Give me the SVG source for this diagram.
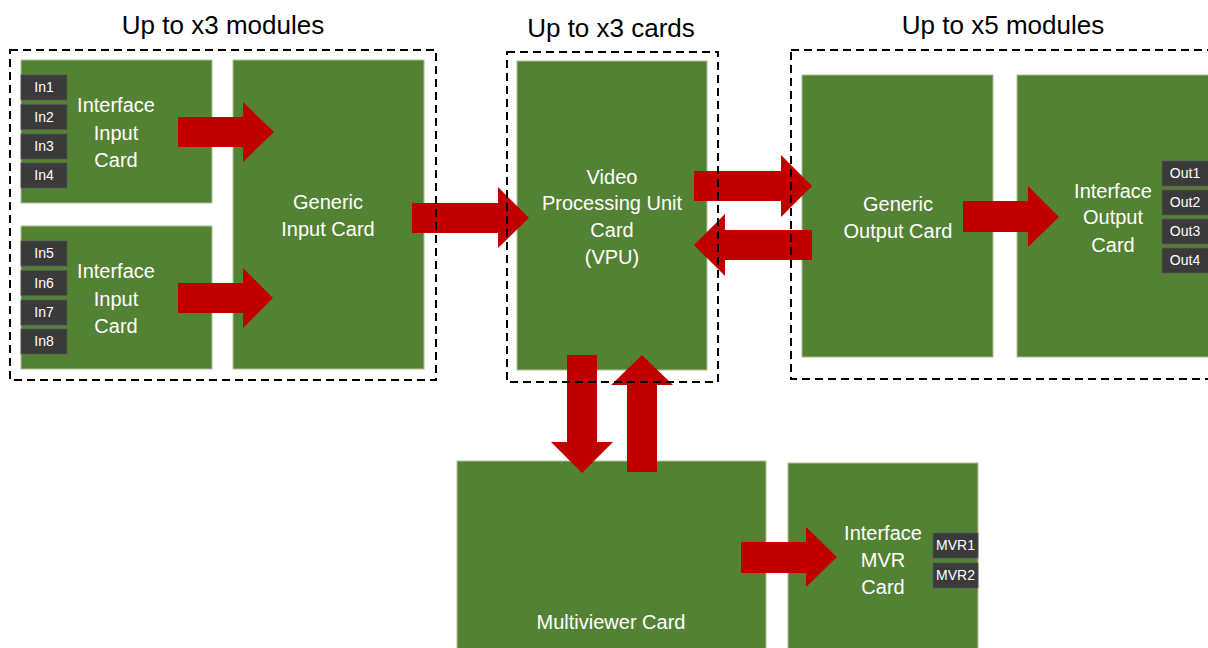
<svg xmlns="http://www.w3.org/2000/svg" width="1208" height="648" viewBox="0 0 1208 648">
<style>
.card{fill:#548235;stroke:#a9c296;stroke-width:1}
.lbl{fill:#3a3a3a;stroke:#555;stroke-width:0.8}
.t{font-family:"Liberation Sans",Arial,sans-serif;fill:#fff;text-anchor:middle;font-size:20px}
.ts{font-family:"Liberation Sans",Arial,sans-serif;fill:#fff;text-anchor:middle;font-size:14px}
.title{font-family:"Liberation Sans",Arial,sans-serif;fill:#000;text-anchor:middle;font-size:26px}
.arrow{fill:#c00000}
.dash{fill:none;stroke:#000;stroke-width:2;stroke-dasharray:8 5}
</style>
<rect width="1208" height="648" fill="#fff"/>
<g id="titles">
<text class="title" x="223" y="34">Up to x3 modules</text>
<text class="title" x="611" y="37">Up to x3 cards</text>
<text class="title" x="1003" y="34">Up to x5 modules</text>
</g>
<g id="iic1">
<rect class="card" x="21" y="60" width="191" height="143"/>
<text class="t" x="116" y="112">Interface</text>
<text class="t" x="116" y="140">Input</text>
<text class="t" x="116" y="167">Card</text>
<rect class="lbl" x="21" y="75" width="46" height="25"/><text class="ts" x="44" y="92">In1</text>
<rect class="lbl" x="21" y="104.5" width="46" height="25"/><text class="ts" x="44" y="121.5">In2</text>
<rect class="lbl" x="21" y="134" width="46" height="25"/><text class="ts" x="44" y="151">In3</text>
<rect class="lbl" x="21" y="163" width="46" height="25"/><text class="ts" x="44" y="180">In4</text>
</g>
<g id="iic2">
<rect class="card" x="21" y="226" width="191" height="143"/>
<text class="t" x="116" y="278">Interface</text>
<text class="t" x="116" y="306">Input</text>
<text class="t" x="116" y="333">Card</text>
<rect class="lbl" x="21" y="241" width="46" height="25"/><text class="ts" x="44" y="258">In5</text>
<rect class="lbl" x="21" y="270.5" width="46" height="25"/><text class="ts" x="44" y="287.5">In6</text>
<rect class="lbl" x="21" y="300" width="46" height="25"/><text class="ts" x="44" y="317">In7</text>
<rect class="lbl" x="21" y="329" width="46" height="25"/><text class="ts" x="44" y="346">In8</text>
</g>
<g id="gic">
<rect class="card" x="233" y="60" width="191" height="309"/>
<text class="t" x="328" y="209">Generic</text>
<text class="t" x="328" y="236">Input Card</text>
</g>
<g id="vpu">
<rect class="card" x="517" y="61" width="190" height="309"/>
<text class="t" x="612" y="184">Video</text>
<text class="t" x="612" y="210">Processing Unit</text>
<text class="t" x="612" y="237">Card</text>
<text class="t" x="612" y="264">(VPU)</text>
</g>
<g id="goc">
<rect class="card" x="802" y="75" width="191" height="282"/>
<text class="t" x="898" y="211">Generic</text>
<text class="t" x="898" y="238">Output Card</text>
</g>
<g id="ioc">
<rect class="card" x="1017" y="75" width="200" height="282"/>
<text class="t" x="1113" y="198">Interface</text>
<text class="t" x="1113" y="224">Output</text>
<text class="t" x="1113" y="252">Card</text>
<rect class="lbl" x="1162" y="161" width="48" height="25"/><text class="ts" x="1185" y="178">Out1</text>
<rect class="lbl" x="1162" y="190" width="48" height="25"/><text class="ts" x="1185" y="207">Out2</text>
<rect class="lbl" x="1162" y="219" width="48" height="25"/><text class="ts" x="1185" y="236">Out3</text>
<rect class="lbl" x="1162" y="248" width="48" height="25"/><text class="ts" x="1185" y="265">Out4</text>
</g>
<g id="mvc">
<rect class="card" x="457" y="461" width="309" height="200"/>
<text class="t" x="611" y="629">Multiviewer Card</text>
</g>
<g id="mvr">
<rect class="card" x="788" y="463" width="190" height="200"/>
<text class="t" x="883" y="540">Interface</text>
<text class="t" x="883" y="567">MVR</text>
<text class="t" x="883" y="594">Card</text>
<rect class="lbl" x="933" y="533" width="45" height="25"/><text class="ts" x="955.5" y="550">MVR1</text>
<rect class="lbl" x="933" y="563" width="45" height="25"/><text class="ts" x="955.5" y="580">MVR2</text>
</g>
<g id="connectors">
<polygon class="arrow" points="178,117 243,117 243,102 274,132 243,162 243,147 178,147"/>
<polygon class="arrow" points="178,283 243,283 243,268 273,298 243,328 243,313 178,313"/>
<polygon class="arrow" points="412,203 498,203 498,187 529,218 498,248 498,233 412,233"/>
<polygon class="arrow" points="694,171 781,171 781,155 812,186 781,217 781,201 694,201"/>
<polygon class="arrow" points="812,230 725,230 725,214 694,245 725,276 725,260 812,260"/>
<polygon class="arrow" points="963,201 1028,201 1028,186 1059,217 1028,247 1028,232 963,232"/>
<polygon class="arrow" points="567,355 597,355 597,442 613,442 582,473 551,442 567,442"/>
<polygon class="arrow" points="627,472 657,472 657,385 673,385 642,355 611,385 627,385"/>
<polygon class="arrow" points="741,542 806,542 806,527 837,557 806,587 806,573 741,573"/>
</g>
<g id="groups">
<rect class="dash" x="10" y="50" width="426" height="330"/>
<rect class="dash" x="507" y="52" width="211" height="330"/>
<rect class="dash" x="791" y="50" width="430" height="329"/>
</g>
</svg>
